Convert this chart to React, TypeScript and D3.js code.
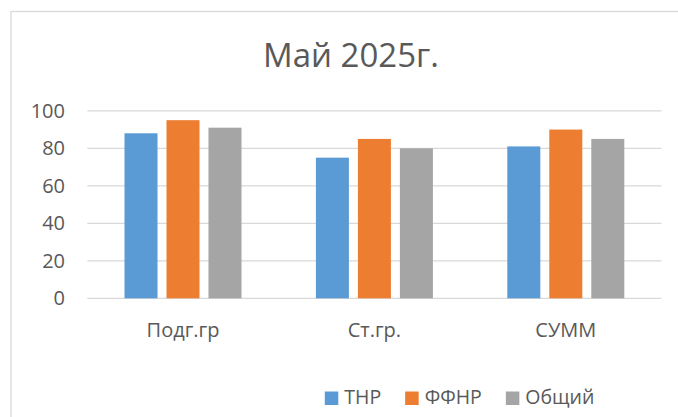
import React, { useEffect, useRef } from "react";
import * as d3 from "d3";

const categories = ["Подг.гр", "Ст.гр.", "СУММ"];
const seriesNames = ["ТНР", "ФФНР", "Общий"];
const thnrValues = [88, 75, 81];
const ffnrValues = [95, 85, 90];
const totalValues = [91, 80, 85];
const yTicks = [0, 20, 40, 60, 80, 100];
const title = "Май 2025г.";

const colors = ["#5B9BD5", "#ED7D31", "#A5A5A5"];

const W = 678;
const H = 417;
const FONT = "'Open Sans', 'Noto Sans', sans-serif";
const TEXT = "#595959";
const GRID = "#D9D9D9";

export default function App() {
  const ref = useRef<SVGSVGElement | null>(null);

  useEffect(() => {
    const svg = d3.select(ref.current);
    svg.selectAll("*").remove();

    const seriesValues = [thnrValues, ffnrValues, totalValues];

    // chart border
    svg
      .append("rect")
      .attr("x", 11)
      .attr("y", 11.5)
      .attr("width", 680)
      .attr("height", 430)
      .attr("fill", "#fff")
      .attr("stroke", GRID)
      .attr("stroke-width", 1.3);

    // title
    svg
      .append("text")
      .attr("x", 351)
      .attr("y", 67)
      .attr("text-anchor", "middle")
      .attr("font-family", FONT)
      .attr("font-size", 33)
      .attr("fill", TEXT)
      .text(title);

    const plotLeft = 87.3;
    const plotRight = 661.5;
    const y = d3.scaleLinear().domain([0, 100]).range([298.3, 110.8]);
    const x0 = d3.scaleBand<string>().domain(categories).range([plotLeft, plotRight]).padding(0);
    const groupW = 117;
    const x1 = d3
      .scaleBand<string>()
      .domain(seriesNames)
      .range([0, groupW])
      .paddingInner(0.214)
      .paddingOuter(0);

    // gridlines
    svg
      .append("g")
      .selectAll("line")
      .data(yTicks)
      .join("line")
      .attr("x1", plotLeft)
      .attr("x2", plotRight)
      .attr("y1", (d) => y(d))
      .attr("y2", (d) => y(d))
      .attr("stroke", GRID)
      .attr("stroke-width", 1.3);

    // y tick labels
    svg
      .append("g")
      .selectAll("text")
      .data(yTicks)
      .join("text")
      .attr("x", 65)
      .attr("y", (d) => y(d))
      .attr("dy", "0.35em")
      .attr("text-anchor", "end")
      .attr("font-family", FONT)
      .attr("font-size", 20)
      .attr("fill", TEXT)
      .text((d) => String(d));

    // bars
    const groups = svg
      .append("g")
      .selectAll("g")
      .data(categories)
      .join("g")
      .attr(
        "transform",
        (c) => `translate(${(x0(c) as number) + (x0.bandwidth() - groupW) / 2},0)`
      );

    groups
      .selectAll("rect")
      .data((c) =>
        seriesNames.map((s, si) => ({ s, si, v: seriesValues[si][categories.indexOf(c as string)] }))
      )
      .join("rect")
      .attr("x", (d) => x1(d.s) as number)
      .attr("width", x1.bandwidth())
      .attr("y", (d) => y(d.v))
      .attr("height", (d) => y(0) - y(d.v))
      .attr("fill", (d) => colors[d.si]);

    // category labels
    svg
      .append("g")
      .selectAll("text")
      .data(categories)
      .join("text")
      .attr("x", (c) => (x0(c) as number) + x0.bandwidth() / 2)
      .attr("y", 336.7)
      .attr("text-anchor", "middle")
      .attr("font-family", FONT)
      .attr("font-size", 20)
      .attr("fill", TEXT)
      .text((c) => c);

    // legend
    const legend = svg.append("g");
    const sq = 13.5;
    const gapSqText = 6;
    const gapItems = 24;
    const items = seriesNames.map((name, i) => {
      const g = legend.append("g");
      g.append("rect")
        .attr("x", 0)
        .attr("y", 391.5)
        .attr("width", sq)
        .attr("height", sq)
        .attr("fill", colors[i]);
      const t = g
        .append("text")
        .attr("x", sq + gapSqText)
        .attr("y", 404.2)
        .attr("font-family", FONT)
        .attr("font-size", 19.5)
        .attr("fill", TEXT)
        .text(name);
      const tw = (t.node() as SVGTextElement).getComputedTextLength();
      return { g, w: sq + gapSqText + tw };
    });
    const total = items.reduce((a, b) => a + b.w, 0) + gapItems * (items.length - 1);
    let cx = 459.6 - total / 2;
    items.forEach((it) => {
      it.g.attr("transform", `translate(${cx},0)`);
      cx += it.w + gapItems;
    });
  }, []);

  return (
    <svg
      ref={ref}
      width={W}
      height={H}
      style={{ position: "absolute", left: 0, top: 0, background: "#fff" }}
    />
  );
}
